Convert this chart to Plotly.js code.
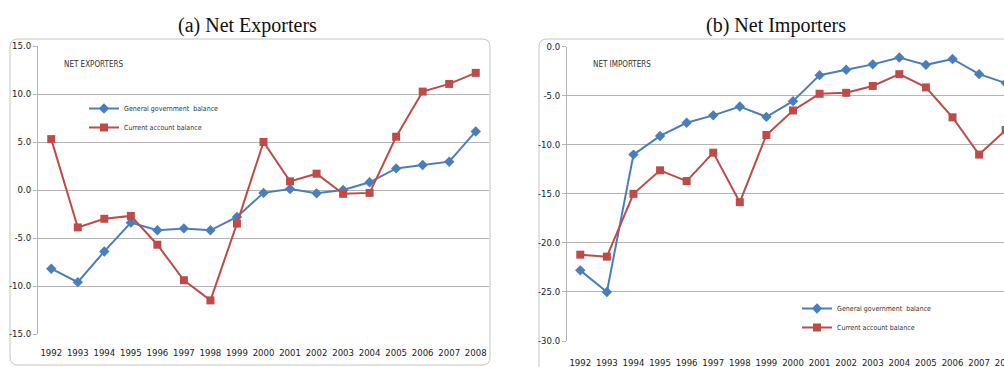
<!DOCTYPE html>
<html><head><meta charset="utf-8">
<script src="https://cdn.plot.ly/plotly-3.0.1.min.js"></script>
<style>html,body{margin:0;padding:0;overflow:hidden;background:#fff}#chart{width:1030px;height:367px}</style>
</head><body><div id="chart"></div>
<script>
const years = ['1992','1993','1994','1995','1996','1997','1998','1999','2000','2001','2002','2003','2004','2005','2006','2007','2008'];
const exportersGov = [-8.2,-9.6,-6.4,-3.4,-4.2,-4.0,-4.2,-2.8,-0.3,0.1,-0.35,0.0,0.8,2.25,2.6,2.95,6.1];
const exportersCA  = [5.3,-3.9,-3.0,-2.7,-5.7,-9.4,-11.5,-3.5,5.0,0.9,1.7,-0.4,-0.3,5.55,10.25,11.05,12.2];
const importersGov = [-22.8,-25.0,-11.0,-9.1,-7.75,-7.0,-6.1,-7.15,-5.55,-2.9,-2.35,-1.8,-1.1,-1.85,-1.25,-2.8,-3.7];
const importersCA  = [-21.2,-21.4,-15.0,-12.6,-13.7,-10.8,-15.85,-9.0,-6.5,-4.8,-4.7,-4.0,-2.8,-4.15,-7.2,-11.0,-8.5];
const expTicks = [-15,-10,-5,0,5,10,15];
const impTicks = [-30,-25,-20,-15,-10,-5,0];
const seriesNames = ['General government  balance','Current account balance'];
const panelTitles = ['(a) Net Exporters','(b) Net Importers'];
const panelLabels = ['NET EXPORTERS','NET IMPORTERS'];

const W = 1030, H = 367;
const px = x => x / W, py = y => 1 - y / H;
const NARROW = '"Liberation Sans Narrow","DejaVu Sans Condensed","Arial Narrow",sans-serif';
const BLUE = '#4a7ebb', RED = '#be4b48';

function roundRect(x0, y0, x1, y1, r) {
  const X = px, Y = py;
  return `M ${X(x0+r)} ${Y(y0)} L ${X(x1-r)} ${Y(y0)} Q ${X(x1)} ${Y(y0)} ${X(x1)} ${Y(y0+r)} ` +
         `L ${X(x1)} ${Y(y1-r)} Q ${X(x1)} ${Y(y1)} ${X(x1-r)} ${Y(y1)} ` +
         `L ${X(x0+r)} ${Y(y1)} Q ${X(x0)} ${Y(y1)} ${X(x0)} ${Y(y1-r)} ` +
         `L ${X(x0)} ${Y(y0+r)} Q ${X(x0)} ${Y(y0)} ${X(x0+r)} ${Y(y0)} Z`;
}

function mk(x, y, name, color, sym, size, xa, ya, leg) {
  return {x: x, y: y, name: name, type: 'scatter', mode: 'lines+markers',
    line: {color: color, width: 2}, marker: {color: color, symbol: sym, size: size},
    xaxis: xa, yaxis: ya, legend: leg, cliponaxis: false};
}

const traces = [
  mk(years, exportersGov, seriesNames[0], BLUE, 'diamond', 8, 'x', 'y', 'legend'),
  mk(years, exportersCA, seriesNames[1], RED, 'square', 8, 'x', 'y', 'legend'),
  mk(years, importersGov, seriesNames[0], BLUE, 'diamond', 8, 'x2', 'y2', 'legend2'),
  mk(years, importersCA, seriesNames[1], RED, 'square', 8, 'x2', 'y2', 'legend2')
];

const tickFont = {family: NARROW, size: 9.5, color: '#222'};
const gridC = '#b4b4b4';
function xax(dom, anchor, standoff) {
  return {domain: dom, anchor: anchor, type: 'category', range: [-0.5, years.length - 0.5], autorange: false,
    tickfont: tickFont, tickangle: 0, showgrid: false,
    showline: false, ticks: '', ticklabelstandoff: standoff, zeroline: false, fixedrange: true};
}
function yax(dom, anchor, rng, ticks) {
  return {domain: dom, anchor: anchor, range: rng, tickvals: ticks, ticktext: ticks.map(v => v.toFixed(1)),
    tickfont: tickFont, showgrid: true, gridcolor: gridC, gridwidth: 1, showline: true, linecolor: gridC,
    ticks: 'outside', ticklen: 4, tickcolor: gridC, zeroline: false, fixedrange: true};
}

const legFont = {family: NARROW, size: 7, color: '#333'};
const layout = {
  width: W, height: H, margin: {l: 0, r: 0, t: 0, b: 0},
  paper_bgcolor: '#fff', plot_bgcolor: 'rgba(0,0,0,0)',
  xaxis: xax([px(38), px(489)], 'y', 11),
  yaxis: yax([py(334), py(46)], 'x', [-15, 15], expTicks),
  xaxis2: xax([px(567), px(1019)], 'y2', 14),
  yaxis2: yax([py(341), py(46.7)], 'x2', [-30, 0], impTicks),
  legend: {x: px(84), y: py(94), xanchor: 'left', yanchor: 'top', font: legFont, bgcolor: 'rgba(0,0,0,0)', tracegroupgap: 0},
  legend2: {x: px(797), y: py(294), xanchor: 'left', yanchor: 'top', font: legFont, bgcolor: 'rgba(0,0,0,0)', tracegroupgap: 0},
  showlegend: true,
  shapes: [
    {type: 'path', xref: 'paper', yref: 'paper', path: roundRect(10, 39, 490, 365, 8), line: {color: '#c4c4c4', width: 1}, layer: 'below'},
    {type: 'path', xref: 'paper', yref: 'paper', path: roundRect(539, 39, 1045, 375, 8), line: {color: '#c4c4c4', width: 1}, layer: 'below'}
  ],
  annotations: [
    {text: panelTitles[0], xref: 'paper', yref: 'paper', x: px(247), y: py(25), xanchor: 'center', yanchor: 'middle', showarrow: false,
     font: {family: '"Liberation Serif","DejaVu Serif",serif', size: 20, color: '#111'}},
    {text: panelTitles[1], xref: 'paper', yref: 'paper', x: px(776), y: py(25), xanchor: 'center', yanchor: 'middle', showarrow: false,
     font: {family: '"Liberation Serif","DejaVu Serif",serif', size: 20, color: '#111'}},
    {text: panelLabels[0], xref: 'paper', yref: 'paper', x: px(62), y: py(64), xanchor: 'left', yanchor: 'middle', showarrow: false,
     font: {family: NARROW, size: 8, color: '#333'}},
    {text: panelLabels[1], xref: 'paper', yref: 'paper', x: px(591), y: py(64), xanchor: 'left', yanchor: 'middle', showarrow: false,
     font: {family: NARROW, size: 8, color: '#333'}}
  ]
};

Plotly.newPlot('chart', traces, layout, {displayModeBar: false, staticPlot: true});
</script></body></html>
